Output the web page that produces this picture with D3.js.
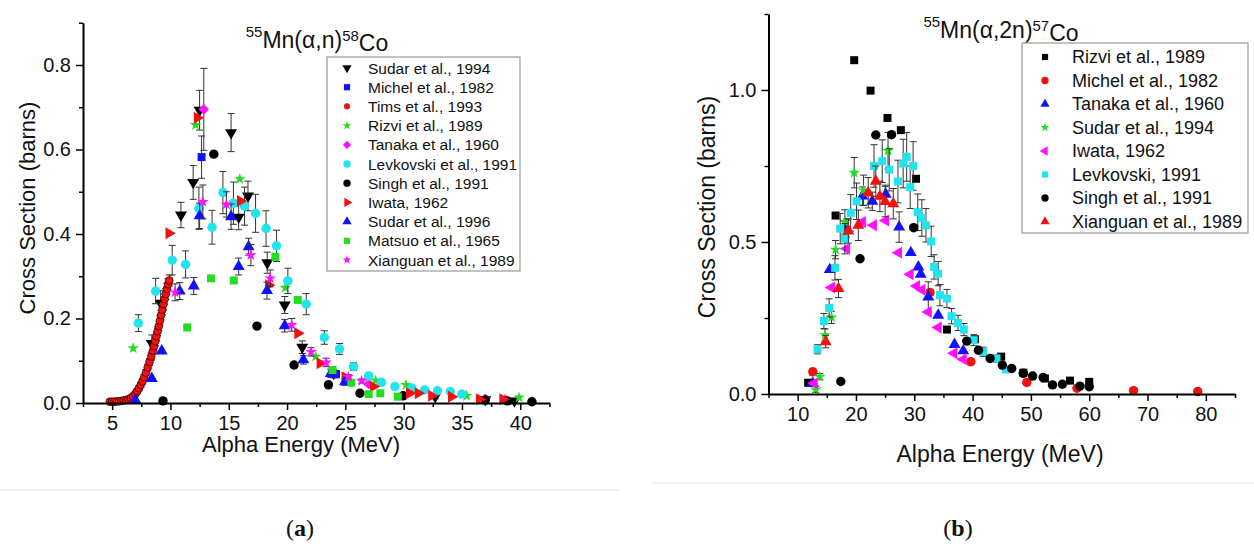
<!DOCTYPE html>
<html>
<head>
<meta charset="utf-8">
<script src="https://cdn.jsdelivr.net/npm/d3@7"></script>
<style>
  body { margin: 0; background: #fff; }
  text { font-family: "Liberation Sans", Arial, sans-serif; fill: #111; }
</style>
</head>
<body>
<svg id="chart" width="1254" height="549"></svg>
<script>
// ---------- panel (a): 55Mn(a,n)58Co  [energy MeV, cross section b, error] ----------
var aSudar1994 = [[8.4,0.141,0.02],[9.16,0.236,0.03],[10.9,0.445,0.03],[11.95,0.522,0.04],[12.5,0.693,0.047],
  [15.2,0.64,0.045],[15.85,0.44,0.03],[16.65,0.49,0.035],[18.3,0.332,0.025],[19.8,0.232,0.02],[21.3,0.132,0.015],
  [24.0,0.07,0.01],[32.7,0.015,0.005],[37.0,0.008,0.004],[39.5,0.005,0.003]];
var aMichel1982 = [[12.67,0.582,0.05],[24.2,0.068,0.005]];
var aTims1993 = [[4.8,0.003,0.004],[5.0,0.003,0.004],[5.2,0.003,0.004],[5.4,0.004,0.004],[5.6,0.004,0.004],[5.8,0.005,0.004],
  [6.0,0.006,0.004],[6.2,0.007,0.004],[6.4,0.009,0.004],[6.6,0.012,0.005],[6.8,0.016,0.005],[7.0,0.022,0.005],
  [7.15,0.028,0.005],[7.3,0.035,0.006],[7.45,0.043,0.006],[7.6,0.051,0.006],[7.75,0.061,0.007],[7.9,0.072,0.007],
  [8.05,0.084,0.008],[8.2,0.097,0.008],[8.35,0.11,0.009],[8.5,0.124,0.009],[8.6,0.135,0.01],[8.7,0.146,0.01],
  [8.8,0.158,0.01],[8.9,0.17,0.01],[9.0,0.182,0.011],[9.1,0.195,0.011],[9.2,0.208,0.011],[9.3,0.221,0.012],
  [9.4,0.234,0.012],[9.5,0.246,0.012],[9.6,0.258,0.013],[9.7,0.27,0.013],[9.8,0.281,0.013],[9.9,0.29,0.013]];
var aRizvi1989 = [[6.8,0.13,0],[12.15,0.658,0],[15.95,0.53,0],[19.85,0.273,0],[22.45,0.11,0],[27.6,0.053,0],
  [30.2,0.043,0],[35.4,0.017,0],[39.9,0.013,0]];
var aTanaka1960 = [[12.86,0.695,0.097],[27.0,0.045,0],[37.0,0.01,0],[38.7,0.008,0]];
var aLevkovski1991 = [[7.25,0.189,0.02],[8.73,0.265,0.03],[10.15,0.338,0.035],[11.3,0.328,0.032],[12.44,0.461,0.05],
  [13.57,0.416,0.04],[14.5,0.498,0.05],[15.4,0.473,0.05],[16.35,0.466,0.045],[17.3,0.449,0.045],[18.2,0.413,0.042],
  [19.1,0.372,0.037],[20.07,0.289,0.03],[21.65,0.234,0.025],[23.2,0.155,0.016],[24.5,0.128,0.013],[25.7,0.086,0.009],
  [27.0,0.064,0.007],[28.1,0.049,0.006],[29.25,0.039,0.006],[30.7,0.035,0.005],[31.8,0.031,0.005],[32.9,0.029,0.005],
  [34.0,0.027,0.005],[35.0,0.021,0.004]];
var aSingh1991 = [[9.36,0.005,0],[13.72,0.589,0],[17.42,0.182,0],[20.6,0.09,0],[23.55,0.043,0],[26.25,0.023,0],
  [29.95,0.017,0],[37.0,0.007,0],[38.9,0.005,0],[41.0,0.003,0]];
var aIwata1962 = [[9.87,0.402,0],[12.3,0.675,0],[16.0,0.478,0],[18.42,0.279,0],[20.92,0.165,0],[22.83,0.094,0],
  [24.97,0.061,0],[27.4,0.039,0],[30.5,0.023,0],[31.25,0.023,0],[32.4,0.017,0],[34.1,0.015,0],[36.5,0.009,0],[38.5,0.009,0]];
var aSudar1996 = [[7.0,0.007,0],[8.4,0.058,0],[9.25,0.123,0],[10.8,0.265,0.02],[12.0,0.277,0.02],[12.5,0.443,0.03],
  [15.2,0.441,0.03],[15.85,0.323,0.02],[16.7,0.37,0.02],[18.28,0.266,0.02],[19.8,0.183,0.015],[21.4,0.102,0.01],
  [23.75,0.07,0.01],[24.97,0.05,0.008]];
var aMatsuo1965 = [[11.44,0.179,0],[13.47,0.295,0],[15.43,0.29,0],[19.0,0.346,0],[20.92,0.244,0],[23.9,0.078,0],
  [25.5,0.048,0],[27.0,0.021,0],[28.0,0.023,0],[29.5,0.015,0]];
var aXianguan1989 = [[10.4,0.262,0.02],[12.78,0.476,0.04],[14.8,0.47,0.03],[16.9,0.35,0.025],[18.56,0.295,0.02],
  [20.4,0.185,0.015],[22.06,0.121,0.01],[23.35,0.096,0.01],[25.25,0.062,0.005],[26.4,0.052,0.005]];

var aLegend = ["Sudar et al., 1994","Michel et al., 1982","Tims et al., 1993","Rizvi et al., 1989","Tanaka et al., 1960",
  "Levkovski et al., 1991","Singh et al., 1991","Iwata, 1962","Sudar et al., 1996","Matsuo et al., 1965","Xianguan et al., 1989"];
var aXTicks = [5,10,15,20,25,30,35,40];
var aYTicks = [0,0.2,0.4,0.6,0.8];

// ---------- panel (b): 55Mn(a,2n)57Co ----------
var bRizvi1989 = [[11.8,0.037,0],[16.5,0.587,0],[19.7,1.098,0],[22.5,0.998,0],[25.4,0.908,0],[27.7,0.868,0],[30.3,0.708,0],
  [35.6,0.212,0],[40.4,0.18,0],[44.9,0.123,0],[48.7,0.07,0],[52.4,0.051,0],[56.7,0.044,0],[60.0,0.04,0]];
var bMichel1982 = [[12.6,0.073,0.01],[32.7,0.334,0.01],[39.7,0.106,0.01],[49.3,0.038,0.008],[57.9,0.019,0.006],
  [67.6,0.011,0.006],[78.6,0.008,0.006]];
var bTanaka1960 = [[12.6,0.035,0],[15.5,0.409,0],[18.4,0.546,0.03],[21.1,0.651,0.03],[22.8,0.634,0.03],[25.1,0.657,0.03],
  [27.4,0.549,0.05],[29.4,0.465,0],[30.7,0.418,0],[31.1,0.394,0],[32.4,0.319,0.05],[34.1,0.259,0],[36.9,0.163,0],[38.4,0.142,0]];
var bSudar1994 = [[13.1,0.015,0.01],[13.8,0.057,0.01],[14.7,0.194,0.02],[15.8,0.252,0.02],[16.5,0.475,0.03],
  [18.1,0.566,0.04],[19.7,0.728,0.05],[21.3,0.67,0.05],[25.5,0.8,0.06]];
var bIwata1962 = [[12.85,0.035,0],[15.8,0.35,0],[18.4,0.478,0],[21.1,0.566,0],[23.0,0.555,0],[25.1,0.571,0],
  [27.3,0.465,0],[29.3,0.394,0],[30.4,0.355,0],[31.3,0.343,0],[32.4,0.27,0],[34.1,0.219,0],[36.8,0.134,0],[38.4,0.114,0]];
var bLevkovski1991 = [[13.4,0.147,0.015],[14.5,0.24,0.025],[15.4,0.283,0.03],[16.4,0.415,0.04],[17.3,0.544,0.05],
  [18.1,0.511,0.05],[19.1,0.596,0.06],[20.1,0.634,0.06],[23.1,0.75,0.07],[24.5,0.766,0.07],[25.7,0.738,0.07],
  [27.2,0.699,0.07],[28.1,0.758,0.08],[28.7,0.78,0.08],[29.3,0.68,0.07],[29.8,0.75,0.08],[30.6,0.598,0.06],
  [31.3,0.579,0.06],[32.0,0.555,0.055],[32.9,0.502,0.05],[33.4,0.418,0.04],[34.1,0.396,0.04],[34.4,0.325,0.035],
  [35.6,0.314,0.03],[36.4,0.256,0.025],[37.5,0.234,0.025],[38.5,0.212,0.02],[40.2,0.177,0.018],[41.8,0.139,0.015],
  [44.1,0.117,0.012],[45.7,0.081,0.01]];
var bSingh1991 = [[17.4,0.041,0],[20.7,0.445,0],[23.4,0.852,0],[26.1,0.853,0],[29.9,0.547,0],[39.0,0.174,0],
  [41.0,0.144,0],[43.0,0.117,0],[45.1,0.095,0],[46.7,0.084,0],[48.7,0.068,0],[50.3,0.059,0],[52.1,0.054,0],
  [53.7,0.03,0],[55.4,0.032,0],[58.4,0.026,0],[60.0,0.024,0]];
var bXianguan1989 = [[14.8,0.172,0.02],[17.0,0.347,0.03],[18.7,0.536,0.04],[20.4,0.555,0.05],[22.1,0.662,0.05],
  [23.4,0.7,0.05],[24.1,0.65,0.05],[25.0,0.633,0.05],[26.4,0.626,0.05]];

var bLegend = ["Rizvi et al., 1989","Michel et al., 1982","Tanaka et al., 1960","Sudar et al., 1994","Iwata, 1962",
  "Levkovski, 1991","Singh et al., 1991","Xianguan et al., 1989"];
var bXTicks = [10,20,30,40,50,60,70,80];
var bYTicks = [0,0.5,1.0];

// ---------- styling ----------
var BLACK = "#000", BLUE = "#1010ff", RED = "#f21010", GREEN = "#22dd22", MAGENTA = "#ff10ff", CYAN = "#22e4ee";

var svg = d3.select("#chart");
svg.append("rect").attr("width", 1254).attr("height", 549).attr("fill", "#fff");

var rotations = {triDown: 180, triRight: 90, triLeft: -90, diamond: 45};
function marker(shape, size) {
    var types = {circle: d3.symbolCircle, square: d3.symbolSquare, diamond: d3.symbolSquare, star: d3.symbolStar,
        triUp: d3.symbolTriangle, triDown: d3.symbolTriangle, triLeft: d3.symbolTriangle, triRight: d3.symbolTriangle};
    return d3.symbol(types[shape], size)();
}
var sizes = {circle: 70, square: 64, diamond: 56, star: 42, triUp: 62, triDown: 62, triLeft: 62, triRight: 62};

function drawPanel(p) {
    var x = d3.scaleLinear().domain(p.xDomain).range(p.xRange);
    var y = d3.scaleLinear().domain(p.yDomain).range(p.yRange);
    var g = svg.append("g");

    // series
    p.series.forEach(function(s) {
        var sg = g.append("g");
        var withErr = s.data.filter(function(d) { return d[2] > 0; });
        sg.selectAll("line.eb").data(withErr).enter().append("line")
            .attr("x1", function(d) { return x(d[0]); }).attr("x2", function(d) { return x(d[0]); })
            .attr("y1", function(d) { return y(d[1] - d[2]); }).attr("y2", function(d) { return y(d[1] + d[2]); })
            .style("stroke", "#333").style("stroke-width", 1);
        [-1, 1].forEach(function(sign) {
            sg.selectAll("line.cap" + sign).data(withErr).enter().append("line")
                .attr("x1", function(d) { return x(d[0]) - 3.5; }).attr("x2", function(d) { return x(d[0]) + 3.5; })
                .attr("y1", function(d) { return y(d[1] + sign * d[2]); }).attr("y2", function(d) { return y(d[1] + sign * d[2]); })
                .style("stroke", "#333").style("stroke-width", 1);
        });
        sg.selectAll("path.pt").data(s.data).enter().append("path")
            .attr("d", marker(s.shape, (s.size || sizes[s.shape]) * p.markScale))
            .attr("transform", function(d) {
                return "translate(" + x(d[0]) + "," + y(d[1]) + ") rotate(" + (rotations[s.shape] || 0) + ")";
            })
            .attr("fill", s.color)
            .attr("stroke", s.edge || "none").attr("stroke-width", 0.6);
    });

    // axes
    g.append("g").attr("transform", "translate(0," + p.yRange[0] + ")")
        .call(d3.axisBottom(x).tickValues(p.xTicks).tickSize(7).tickSizeOuter(0).tickPadding(6));
    g.append("g").attr("transform", "translate(0," + p.yRange[0] + ")")
        .call(d3.axisBottom(x).tickValues(p.xMinor).tickSize(4).tickFormat(""))
        .call(function(a) { a.select(".domain").remove(); });
    g.append("g").attr("transform", "translate(" + p.xRange[0] + ",0)")
        .call(d3.axisLeft(y).tickValues(p.yTicks).tickSize(7).tickSizeOuter(0).tickPadding(5).tickFormat(d3.format(".1f")));
    g.append("g").attr("transform", "translate(" + p.xRange[0] + ",0)")
        .call(d3.axisLeft(y).tickValues(p.yMinor).tickSize(4).tickFormat(""))
        .call(function(a) { a.select(".domain").remove(); });
    g.selectAll(".domain").style("stroke", "#000").style("stroke-width", 2);
    g.selectAll(".tick line").style("stroke", "#000").style("stroke-width", 1.5);
    g.selectAll(".tick text").style("font-size", p.tickFont + "px").style("font-family", "Liberation Sans, Arial").style("fill", "#111");

    // axis titles
    g.append("text").attr("x", p.xTitle[0]).attr("y", p.xTitle[1]).attr("text-anchor", "middle")
        .style("font-size", p.titleFont + "px").text("Alpha Energy (MeV)");
    g.append("text").attr("transform", "translate(" + p.yTitle[0] + "," + p.yTitle[1] + ") rotate(-90)")
        .attr("text-anchor", "middle").style("font-size", p.titleFont + "px").text("Cross Section (barns)");

    // reaction title
    var t = g.append("text").attr("x", p.title[0]).attr("y", p.title[1]).attr("text-anchor", "middle")
        .style("font-size", p.headFont + "px");
    t.append("tspan").attr("dy", "-0.45em").style("font-size", (p.headFont * 0.65) + "px").text("55");
    t.append("tspan").attr("dy", "0.45em").text("Mn(α," + p.reaction + ")");
    t.append("tspan").attr("dy", "-0.45em").style("font-size", (p.headFont * 0.65) + "px").text(p.product);
    t.append("tspan").attr("dy", "0.45em").text("Co");

    // legend
    var L = p.legend;
    g.append("rect").attr("x", L.x).attr("y", L.y).attr("width", L.w).attr("height", L.h)
        .attr("fill", "#fff").attr("stroke", "#9a9a9a").attr("stroke-width", 1.2);
    p.series.forEach(function(s, i) {
        var cy = L.row0 + i * L.step;
        g.append("path").attr("d", marker(s.shape, (s.size || sizes[s.shape]) * L.markScale))
            .attr("transform", "translate(" + L.sx + "," + cy + ") rotate(" + (rotations[s.shape] || 0) + ")")
            .attr("fill", s.color);
        g.append("text").attr("x", L.tx).attr("y", cy + L.font * 0.36).style("font-size", L.font + "px").text(p.names[i]);
    });
}

drawPanel({
    xDomain: [2.5, 42.5], xRange: [83, 549.4], yDomain: [0, 0.9], yRange: [403, 22.75],
    xTicks: aXTicks, xMinor: [2.5,7.5,12.5,17.5,22.5,27.5,32.5,37.5,42.5],
    yTicks: aYTicks, yMinor: [0.1,0.3,0.5,0.7,0.9],
    tickFont: 20, titleFont: 22, headFont: 23, markScale: 1,
    xTitle: [301, 452], yTitle: [35, 208], title: [317, 44], reaction: "n", product: "58",
    names: aLegend,
    series: [
        {data: aSudar1994, shape: "triDown", color: BLACK},
        {data: aMichel1982, shape: "square", color: BLUE},
        {data: aTims1993, shape: "circle", color: RED, size: 48, edge: "#000"},
        {data: aRizvi1989, shape: "star", color: GREEN},
        {data: aTanaka1960, shape: "diamond", color: MAGENTA},
        {data: aLevkovski1991, shape: "circle", color: CYAN},
        {data: aSingh1991, shape: "circle", color: BLACK},
        {data: aIwata1962, shape: "triRight", color: RED},
        {data: aSudar1996, shape: "triUp", color: BLUE},
        {data: aMatsuo1965, shape: "square", color: GREEN},
        {data: aXianguan1989, shape: "star", color: MAGENTA}
    ],
    legend: {x: 327, y: 57, w: 193, h: 214, row0: 68, step: 19.2, sx: 347, tx: 368, font: 15.5, markScale: 0.6}
});

drawPanel({
    xDomain: [5, 85], xRange: [768.5, 1235], yDomain: [0, 1.25], yRange: [394, 14],
    xTicks: bXTicks, xMinor: [5,15,25,35,45,55,65,75,85],
    yTicks: bYTicks, yMinor: [0.25,0.75,1.25],
    tickFont: 20, titleFont: 23, headFont: 23, markScale: 1,
    xTitle: [1000, 462], yTitle: [715, 207], title: [1001, 34], reaction: "2n", product: "57",
    names: bLegend,
    series: [
        {data: bRizvi1989, shape: "square", color: BLACK},
        {data: bMichel1982, shape: "circle", color: RED},
        {data: bTanaka1960, shape: "triUp", color: BLUE},
        {data: bSudar1994, shape: "star", color: GREEN},
        {data: bIwata1962, shape: "triLeft", color: MAGENTA},
        {data: bLevkovski1991, shape: "square", color: CYAN},
        {data: bSingh1991, shape: "circle", color: BLACK},
        {data: bXianguan1989, shape: "triUp", color: RED}
    ],
    legend: {x: 1022, y: 43, w: 226, h: 190, row0: 57, step: 23.5, sx: 1045, tx: 1072, font: 18, markScale: 0.6}
});

// faint separators and sub-figure labels
svg.append("line").attr("x1", 0).attr("x2", 620).attr("y1", 490).attr("y2", 490).style("stroke", "#f0f0f0").style("stroke-width", 2);
svg.append("line").attr("x1", 652).attr("x2", 1254).attr("y1", 483).attr("y2", 483).style("stroke", "#f0f0f0").style("stroke-width", 2);
[["a", 300], ["b", 958]].forEach(function(l) {
    var t = svg.append("text").attr("x", l[1]).attr("y", 536).attr("text-anchor", "middle")
        .style("font-family", "Liberation Serif, Times New Roman, serif").style("font-size", "24px");
    t.append("tspan").text("(");
    t.append("tspan").style("font-weight", "bold").text(l[0]);
    t.append("tspan").text(")");
});
</script>
</body>
</html>
